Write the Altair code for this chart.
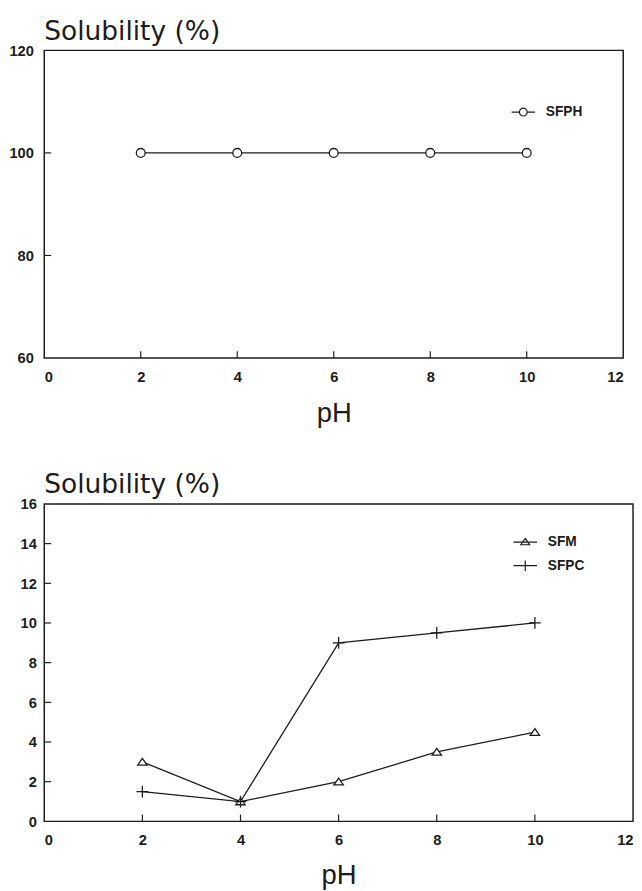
import altair as alt
import pandas as pd

# ---- data ----
ph = [2, 4, 6, 8, 10]
sfph = [100, 100, 100, 100, 100]
sfm = [3, 1, 2, 3.5, 4.5]
sfpc = [1.5, 1, 9, 9.5, 10]

x_tick_values = [0, 2, 4, 6, 8, 10, 12]
x_inner_ticks = [2, 4, 6, 8, 10]
top_y_values = [60, 80, 100, 120]
top_y_inner = [80, 100]
bot_y_values = [0, 2, 4, 6, 8, 10, 12, 14, 16]
bot_y_inner = [2, 4, 6, 8, 10, 12, 14]

INK = "#1c1c1c"
TICK_LEN = 7

top_df = pd.DataFrame({"pH": ph, "sol": sfph, "series": ["SFPH"] * len(ph)})
bot_df = pd.concat([
    pd.DataFrame({"pH": ph, "sol": sfm, "series": ["SFM"] * len(ph)}),
    pd.DataFrame({"pH": ph, "sol": sfpc, "series": ["SFPC"] * len(ph)}),
], ignore_index=True)

CIRCLE_LEG = "M-1,0H-0.33M0.33,0H1M0.33,0A0.33,0.33 0 1,1 -0.33,0A0.33,0.33 0 1,1 0.33,0Z"
TRI_LEG = "M-1,0H1M0,-0.32L0.38,0.22L-0.38,0.22Z"
CROSS_LEG = "M-1,0H1M0,-0.45V0.45"
TRI_PT = "M0,-0.6L0.8,0.55L-0.8,0.55Z"
CROSS_PT = "M-1,0H1M0,-1V1"


def panel(df, ydomain, yvalues, yinner, series, shapes, psize, legend, w, h,
          ypad, xtitlepad):
    x_scale = alt.Scale(domain=[0, 12], nice=False, zero=False)
    y_scale = alt.Scale(domain=ydomain, nice=False, zero=False)
    x_axis = alt.Axis(values=x_tick_values, title="pH", labelPadding=12,
                      titlePadding=xtitlepad, format="d", labelOverlap=False)
    y_axis = alt.Axis(values=yvalues, title=None, labelPadding=ypad, format="d",
                      labelOverlap=False, tickCount=len(yvalues))
    x = alt.X("pH:Q", scale=x_scale, axis=x_axis)
    y = alt.Y("sol:Q", scale=y_scale, axis=y_axis)
    line = alt.Chart(df).mark_line(strokeWidth=1.3).encode(
        x=x, y=y,
        color=alt.Color("series:N",
                        scale=alt.Scale(domain=series, range=[INK] * len(series)),
                        legend=legend))
    layers = []
    for name, shp in zip(series, shapes):
        layers.append(
            alt.Chart(df).transform_filter(alt.datum.series == name).mark_point(
                shape=shp, filled=False, fill="white", fillOpacity=1, stroke=INK,
                strokeWidth=1.3, opacity=1, size=psize).encode(x=x, y=y))
    xt = alt.Chart(pd.DataFrame({"pH": x_inner_ticks})).mark_rule(
        color=INK, strokeWidth=1.2).encode(
        x=x, y=alt.value(h), y2=alt.value(h - TICK_LEN))
    yt = alt.Chart(pd.DataFrame({"sol": yinner})).mark_rule(
        color=INK, strokeWidth=1.2).encode(
        y=y, x=alt.value(0), x2=alt.value(TICK_LEN))
    return alt.layer(line, *layers, xt, yt).properties(
        width=w, height=h,
        title=alt.TitleParams("Solubility (%)", anchor="start", frame="group",
                              fontSize=27, font="DejaVu Sans", fontWeight="normal",
                              color=INK, offset=-2))


leg_common = dict(orient="none", title=None, labelFont="Liberation Sans",
                  labelFontSize=14, labelFontWeight="bold", labelColor=INK,
                  symbolSize=576, symbolStrokeColor=INK, symbolStrokeWidth=1.2,
                  symbolFillColor="white", labelOffset=10, rowPadding=4)

top_legend = alt.Legend(legendX=476, legendY=50, symbolType=CIRCLE_LEG, **leg_common)
bot_legend = alt.Legend(
    legendX=478, legendY=26,
    symbolType={"expr": "datum.value === 'SFM' ? '" + TRI_LEG + "' : '" + CROSS_LEG + "'"},
    **leg_common)

top = panel(top_df, [60, 120], top_y_values, top_y_inner, ["SFPH"], ["circle"], 81,
            top_legend, 591, 314, 11, 16)
bot = panel(bot_df, [0, 16], bot_y_values, bot_y_inner, ["SFM", "SFPC"],
            [TRI_PT, CROSS_PT], 144, bot_legend, 601, 324, 8, 14)

chart = alt.vconcat(top, bot, spacing=43).properties(
    padding=0
).resolve_scale(
    color="independent"
).configure_view(
    stroke=INK, strokeWidth=1.5
).configure_axis(
    domain=False, ticks=False, tickSize=0, grid=False,
    labelFont="Liberation Sans", labelFontWeight="bold", labelFontSize=15,
    labelColor=INK, titleFont="Liberation Sans", titleFontSize=28,
    titleFontWeight="normal", titleColor=INK
)

chart.save("out.html", embed_options={"renderer": "svg", "actions": False})
